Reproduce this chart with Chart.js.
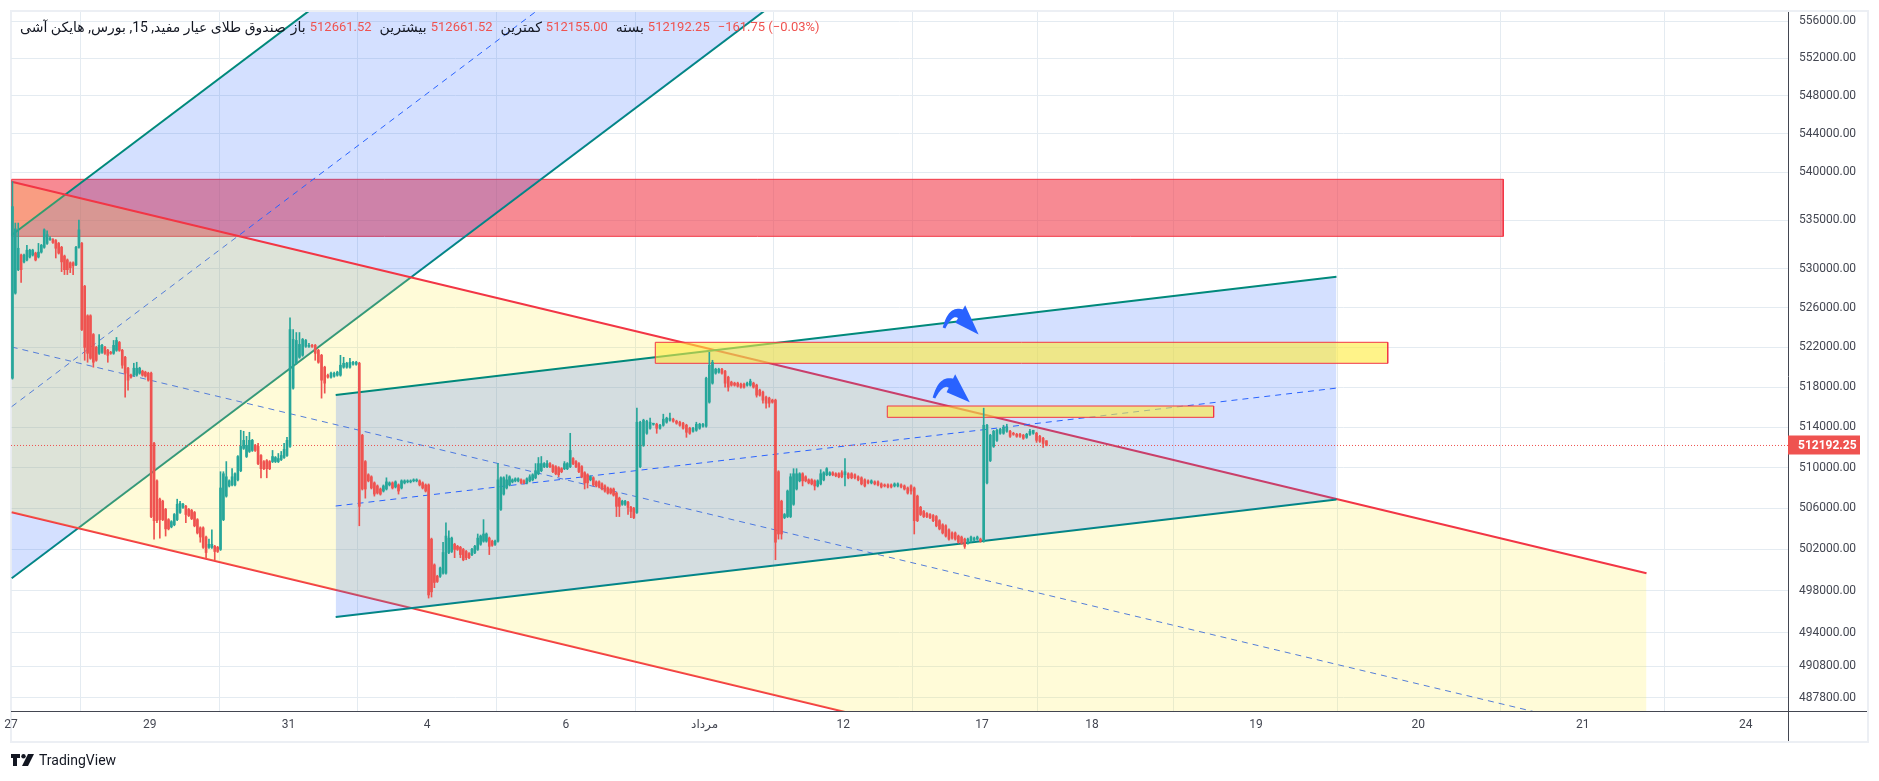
<!DOCTYPE html>
<html lang="fa">
<head>
<meta charset="utf-8">
<title>صندوق طلای عیار مفید</title>
<script src="https://cdn.jsdelivr.net/npm/chart.js@4.4.1/dist/chart.umd.min.js"></script>
<style>
  html, body { margin: 0; padding: 0; background: #fff; }
  body { width: 1879px; height: 781px; position: relative; overflow: hidden; font-family: Roboto, "DejaVu Sans", sans-serif; }
  #frame { position: absolute; left: 10px; top: 10px; width: 1855px; height: 729px; border: 2px solid #eceff4; }
  #wrap { position: absolute; left: 0; top: 0; width: 1879px; height: 781px; }
  #logo { position: absolute; left: 11px; top: 752px; display: flex; align-items: center; font-size: 14px; color: #131722; }
  #logo svg { margin-right: 4px; }
</style>
</head>
<body>
<div id="frame"></div>
<div id="wrap"><canvas id="chart"></canvas></div>
<div id="logo">
  <svg width="24" height="12" viewBox="0 0 24 12"><path d="M0 0h9v4H6v8H2V4H0z" fill="#131722"/><circle cx="12.5" cy="2.2" r="2.2" fill="#131722"/><path d="M17 0h6l-6 12h-6z" fill="#131722"/></svg>
  <span>TradingView</span>
</div>
<script>
(function () {
  // header
  const titleText = 'صندوق طلای عیار مفید, 15, بورس, هایکن آشی';
  const ohlcLabels = ['باز', 'بیشترین', 'کمترین', 'بسته'];
  const ohlcValues = ['512661.52', '512661.52', '512155.00', '512192.25'];
  const changeText = '−161.75 (−0.03%)';
  const lastClose = 512192.25;

  // time axis: sessions counted from the 27th, tick labels as printed
  const xTickPos = [0, 2, 4, 6, 8, 10, 12, 14, 15.585, 17.95, 20.29, 22.66, 25.01];
  const xTickLabels = ['27', '29', '31', '4', '6', 'مرداد', '12', '17', '18', '19', '20', '21', '24'];
  const xMax = 25.62;

  // price axis (log)
  const yTickValues = [556000, 552000, 548000, 544000, 540000, 535000, 530000, 526000, 522000,
    518000, 514000, 510000, 506000, 502000, 498000, 494000, 490800, 487800];
  const yMin = 486560;
  const yMax = 556970;

  // 15 min Heikin Ashi bars, one line per session
  const barsPerDay = [24, 24, 24, 24, 22, 23, 24, 24, 24, 21, 22, 23, 21, 22, 21];

  const opens = [
    518900,527500,529900,531400,530700,530900,531200,531400,531600,531200,531700,532200,532600,533000,533000,532900,532600,532200,531300,530900,530600,530600,530400,532200,
    532600,528200,525200,525200,523300,522000,521400,521500,522000,521700,521500,521400,521700,522500,521700,521000,519900,519200,519200,519200,519400,519600,519500,519400,
    519400,512400,508700,506900,506700,505900,504900,504200,504400,504900,505600,506100,506200,505900,505800,505600,504900,504100,504100,503200,502200,502200,502300,502200,
    502000,504900,507200,508200,508300,508300,508800,509700,511900,511100,511600,511700,512200,512100,511200,510600,510700,510600,510600,510600,510600,510800,511000,511200,
    512100,517900,520400,521000,521200,522100,522100,522200,522200,521700,521200,520000,519200,519000,519100,519200,519200,520000,520000,520000,520300,520300,
    520400,513200,510600,509300,509100,508500,508200,507900,507700,507900,508300,508500,508100,508300,508000,508500,508600,508600,508700,508700,508700,508500,508300,
    508300,503000,500500,499400,499400,499700,499700,501700,501800,502500,502300,502200,502000,501800,501600,501500,501700,502000,502500,502800,502800,503100,502800,502500,
    502800,505900,507400,508000,508300,508600,508700,508700,508800,508700,508500,508700,508800,509000,509400,509700,510100,510100,510400,510200,510100,510000,509900,509900,
    509900,510100,510900,510600,510400,510100,509500,509300,508800,509000,508600,508600,508400,508200,508000,507900,507900,507500,507000,506400,506400,506600,506100,506000,
    505600,510100,512200,513400,513900,514300,514300,513900,514200,514500,514700,514800,514600,514500,514400,514200,513900,513600,513700,513900,514100,
    514100,516500,518400,519400,519500,519800,519600,519000,518500,518400,518400,518300,518300,518200,518200,518400,518200,517700,517500,517000,516900,516700,
    516700,509600,506700,505100,505200,505200,506400,507900,508700,509400,509100,508800,508800,508700,508200,508400,508800,509300,509300,509500,509400,509400,509500,
    509300,509400,509400,509300,509100,509000,508800,508700,508500,508600,508600,508400,508300,508300,508300,508200,508200,508300,508200,508000,508200,
    508000,507200,506100,505700,505500,505400,505300,505200,504800,504400,504300,503900,503600,503600,503300,503200,503000,502600,502800,502900,503000,503000,
    502800,508500,510700,512100,512700,513400,513400,513600,513600,513400,513300,513300,513200,513000,513300,513400,513400,513100,512900,512661.52,
  ];
  const highs = [
    539000,534700,534700,531500,531500,532400,532000,532000,531700,532600,532500,534100,533900,533300,533100,533000,532700,532300,531400,531000,530700,530700,532300,535000,
    532700,528300,525300,525300,523400,522100,523300,522300,522100,521800,521600,522700,523000,522600,521800,521100,520000,519300,520400,520500,520000,519700,519600,519500,
    519500,512500,508800,507000,506800,506000,505000,504800,505500,506900,506700,506500,506300,506000,505900,505700,505000,504200,504200,503300,503000,503900,502400,502300,
    509600,509600,510600,508800,509900,509500,511200,513700,513600,513100,513500,512800,512300,512400,511300,510700,510800,510700,511700,511100,511400,511600,512400,513000,
    525000,523800,523500,523500,522900,522800,522400,522300,522300,521800,521300,520100,519300,519500,519500,519600,521200,521000,520500,520900,520600,520600,
    520500,513300,510700,509400,509200,508600,508300,508000,508300,509000,508600,508600,508700,508400,508800,508800,508800,508800,508900,508900,508800,508600,508400,
    508400,503100,500600,499500,500300,502700,504600,503800,503200,502600,502400,502300,502100,501900,501700,502100,502400,503500,503400,504900,503600,503200,502900,502900,
    510400,509100,509100,509300,509200,508900,509000,509000,508900,508800,509000,509300,509400,510400,511000,511100,510500,510700,510500,510300,510200,510100,510000,510600,
    510500,513400,511000,510700,510500,510200,509600,509400,509200,509100,508700,508700,508500,508300,508100,508000,508000,507600,507100,506800,506800,506700,506200,506100,
    515900,514600,514800,514700,514900,514400,514400,514300,515300,515000,515400,514900,514700,514600,514500,514300,514000,514000,514500,514400,514400,
    519000,521500,520700,519900,519900,519900,519700,519100,518600,518500,518500,518400,518400,518500,518800,518500,518300,517800,517600,517100,517000,516800,
    516800,509700,506800,505500,507800,509400,509900,509900,509500,509500,509200,508900,508900,508800,508800,509800,509600,510000,509600,509600,509500,509500,509700,
    510900,509500,509500,509400,509200,509100,508900,508800,508800,508700,508700,508500,508400,508400,508400,508500,508500,508400,508300,508100,508300,
    508100,507300,506200,505800,505600,505500,505400,505300,504900,504500,504400,504000,503700,503700,503400,503300,503100,503100,503300,503200,503300,503100,
    515900,514300,513300,513700,513800,513900,514200,514300,513700,513500,513400,513400,513300,513400,513800,513700,513500,513200,513000,512661.52,
  ];
  const lows = [
    518800,527400,529800,528600,530600,530800,531100,531300,530800,531100,531600,532100,532500,532900,532600,531100,531500,529700,529400,529400,529600,529400,530300,532100,
    523700,520700,520500,520800,520000,520600,521300,521400,521300,520500,521300,521300,521600,521600,519900,517000,517700,518900,519100,519100,519300,519100,519000,518600,
    505100,503000,504600,503100,504800,503300,503900,504100,504300,504800,505500,506000,504600,505200,504900,504200,503500,502700,502100,501200,502100,502100,501000,501700,
    501900,504800,507100,508100,508200,508200,508700,509600,511800,511000,511500,511600,511600,510300,509000,509800,509000,509800,510500,510500,510500,510700,510900,511100,
    512000,517800,520300,520900,521100,522000,522000,522000,520700,520400,516900,517400,518900,518900,519000,519100,519100,519900,519900,519900,520200,520200,
    504300,507800,507000,508600,507900,507200,507400,507300,507600,507800,508200,507900,508000,507400,507900,508400,508500,508500,508600,508600,508200,507900,507600,
    497300,497400,498300,498800,499300,499600,499600,501600,501700,501200,501900,501200,500900,501000,501100,501400,501600,501900,502400,502700,502700,501500,502300,502400,
    502700,505800,507300,507900,508200,508500,508600,508600,508400,508400,508400,508600,508700,508900,509300,509600,510000,510000,510000,509500,509300,509100,509500,509800,
    509800,510000,510300,510000,509500,509000,507900,508000,508700,508200,508100,508000,507800,507600,507400,507400,507200,505200,505200,506300,506300,505400,505100,505000,
    505500,510000,512100,513300,513800,514200,513400,513800,514100,514400,514600,514500,514300,514100,513800,513000,513300,513500,513600,513800,514000,
    514000,516400,518300,519300,519400,519300,518000,517600,518100,518100,518000,517900,517900,518100,518100,517900,517000,517100,516400,515900,516000,516400,
    501000,503000,503000,505000,505100,505100,506300,507800,508600,508200,508600,508400,508300,507800,508100,508300,508700,509200,509200,509200,509100,509000,509000,
    508200,508900,508900,508900,508700,508300,508100,508400,508400,508300,508200,508000,508100,508000,508000,508100,508100,508000,507800,507400,507400,
    503500,504700,505300,505100,505100,505000,504700,504200,503900,503500,503200,502900,503000,502900,502600,502500,502100,502500,502700,502800,502900,502700,
    502700,508400,510600,512000,512600,513300,513300,513500,513000,513200,513000,513000,512800,512900,513200,513300,512500,512500,512000,512155,
  ];
  const closes = [
    536400,534100,532100,529900,531400,531900,531900,531900,530900,531700,532400,534000,533500,533100,532700,532100,531600,530700,529900,529900,530100,530300,532200,534000,
    523800,522000,521400,520900,520500,520700,522200,522200,521400,521200,521400,522200,522700,521700,520200,519400,518700,519000,519900,519900,519900,519200,519100,518700,
    505200,504800,504800,504900,504900,504000,504000,504700,505400,506400,506500,506400,505400,505300,505000,504300,503600,503200,502200,501700,502500,502500,501800,501800,
    508000,509400,509100,508700,509100,509400,511100,512100,512700,512200,512700,512700,511700,510400,509900,509900,509900,509900,511100,511000,510900,511200,511800,512700,
    523800,522800,522700,522300,522800,522700,522200,522100,521400,520500,518700,518400,519000,519400,519400,519500,520200,520400,520400,520500,520500,520500,
    506200,507900,507900,508700,508000,507400,507500,507400,508200,508600,508500,508000,508600,507700,508700,508700,508700,508700,508800,508800,508300,508000,507700,
    497600,497900,498800,498900,500200,501700,503300,503100,503100,502000,502000,501500,501000,501200,501200,502000,502300,503100,503300,503500,503500,502300,502400,502800,
    508800,509000,509000,508800,509100,508800,508900,508900,508500,508500,508900,509100,509300,509700,510400,510400,510400,510400,510100,509600,509400,509300,509600,510400,
    510400,511700,510400,510100,509600,509100,508500,508500,509100,508300,508200,508100,507900,507700,507500,507500,507300,506200,506200,506700,506700,506100,505700,505100,
    514500,514500,514700,514600,514500,514300,513900,514200,514800,514900,514900,514600,514400,514200,513900,513500,513400,513900,514300,514300,514300,
    518900,520200,520500,519800,519800,519400,518400,518000,518200,518200,518100,518000,518000,518400,518600,518000,517200,517200,516700,516400,516400,516500,
    502700,503500,503500,505400,507700,509100,509400,509400,509400,508700,508700,508500,508400,508200,508700,509400,509500,509900,509500,509300,509200,509100,509100,
    509600,509000,509000,509000,508800,508400,508200,508500,508700,508400,508300,508100,508200,508100,508100,508400,508400,508100,507900,507500,507700,
    504800,504800,505400,505200,505200,505100,504800,504300,504000,503600,503300,503000,503100,503000,502700,502600,502300,503000,503200,503100,503200,502800,
    514200,514200,513200,513600,513700,513800,514000,514000,513100,513300,513100,513100,512900,513300,513600,513700,512700,512600,512400,512192.25,
  ];

  // drawings: x in sessions, y in price
  const steepDays = [0.01, 12.82];
  const steepUpper = [533464, 607223];
  const steepLower = [499203, 568226];
  const steepMid = [516050, 587401];

  const fallDays = [0.01, 23.58];
  const fallUpper = [538990, 499686];
  const fallLower = [505614, 468744];
  const fallMid = [522036, 483969];

  const riseDays = [4.681, 19.11];
  const riseUpper = [517213, 529180];
  const riseLower = [495482, 506867];
  const riseMid = [506231, 517904];

  const zoneStart = [0.01, 9.289, 12.634];
  const zoneEnd = [21.515, 19.849, 17.339];
  const zoneTop = [539240, 522511, 516115];
  const zoneBottom = [533330, 520394, 514988];

  const arrowFrom = [[13.452, 523957], [13.307, 516914]];
  const arrowTo = [[13.913, 523451], [13.784, 516614]];

  const colors = {
    up: '#26a69a',
    down: '#ef5350',
    teal: '#00897b',
    red: '#f23645',
    dash: '#2962ff',
    blueFill: 'rgba(41, 98, 255, 0.2)',
    yellowFill: 'rgba(255, 235, 59, 0.2)',
    redZone: 'rgba(242, 54, 69, 0.58)',
    yellowZone: 'rgba(255, 235, 59, 0.6)',
    grid: '#e4ebf1',
    text: '#434651',
    axis: '#434651',
    title: '#131722',
  };

  // candle positions inside each session
  const candleX = [];
  let bar = 0;
  barsPerDay.forEach((slots, day) => {
    for (let k = 0; k < slots && bar < closes.length; k += 1, bar += 1) {
      candleX.push(day + (k + 0.5) / slots);
    }
  });
  const candleColor = closes.map((c, i) => (c >= opens[i] ? colors.up : colors.down));

  const seg = (days, vals) => days.map((d, i) => ({ x: d, y: vals[i] }));
  const lineDs = (data, color, extra) => Object.assign({
    type: 'line',
    data,
    borderColor: color,
    borderWidth: 2,
    pointRadius: 0,
    fill: false,
  }, extra);

  const datasets = [];
  // zones (bottom layer is the red one)
  zoneStart.forEach((x0, i) => {
    const x1 = zoneEnd[i];
    datasets.push(lineDs([
      { x: x0, y: zoneTop[i] }, { x: x1, y: zoneTop[i] },
      { x: x1, y: zoneBottom[i] }, { x: x0, y: zoneBottom[i] }, { x: x0, y: zoneTop[i] },
    ], colors.red, {
      borderWidth: 1,
      fill: 'shape',
      backgroundColor: i === 0 ? colors.redZone : colors.yellowZone,
      order: i === 0 ? 100 : 60,
    }));
  });
  // steep rising channel
  datasets.push(lineDs(seg(steepDays, steepUpper), colors.teal, { fill: '+1', backgroundColor: colors.blueFill, order: 90 }));
  datasets.push(lineDs(seg(steepDays, steepLower), colors.teal, { order: 90 }));
  datasets.push(lineDs(seg(steepDays, steepMid), colors.dash, { borderWidth: 1, borderDash: [6, 5], order: 90 }));
  // falling channel
  datasets.push(lineDs(seg(fallDays, fallUpper), colors.red, { fill: '+1', backgroundColor: colors.yellowFill, order: 80 }));
  datasets.push(lineDs(seg(fallDays, fallLower), colors.red, { order: 80 }));
  datasets.push(lineDs(seg(fallDays, fallMid), colors.dash, { borderWidth: 1, borderDash: [6, 5], order: 80 }));
  // gentle rising channel
  datasets.push(lineDs(seg(riseDays, riseUpper), colors.teal, { fill: '+1', backgroundColor: colors.blueFill, order: 70 }));
  datasets.push(lineDs(seg(riseDays, riseLower), colors.teal, { order: 70 }));
  datasets.push(lineDs(seg(riseDays, riseMid), colors.dash, { borderWidth: 1, borderDash: [6, 5], order: 70 }));
  // last price line
  datasets.push(lineDs([{ x: 0, y: lastClose }, { x: xMax, y: lastClose }], colors.down, { borderWidth: 1, borderDash: [1, 2], order: 55 }));
  // candles
  datasets.push({
    type: 'bar',
    data: candleX.map((x, i) => ({ x, y: [lows[i], highs[i]] })),
    backgroundColor: candleColor,
    barThickness: 1,
    grouped: false,
    minBarLength: 1,
    borderWidth: 0,
    order: 50,
  });
  datasets.push({
    type: 'bar',
    data: candleX.map((x, i) => ({ x, y: [opens[i], closes[i]] })),
    backgroundColor: candleColor,
    barThickness: 2,
    grouped: false,
    minBarLength: 1,
    borderWidth: 0,
    order: 49,
  });

  function drawArrow(ctx, xs, ys, xe, ye) {
    const cx = (xs + xe) / 2 - 4;
    const cy = Math.min(ys, ye) - 32;
    const pt = (t) => ({
      x: (1 - t) * (1 - t) * xs + 2 * (1 - t) * t * cx + t * t * xe,
      y: (1 - t) * (1 - t) * ys + 2 * (1 - t) * t * cy + t * t * ye,
    });
    const dir = (t) => {
      const dx = 2 * (1 - t) * (cx - xs) + 2 * t * (xe - cx);
      const dy = 2 * (1 - t) * (cy - ys) + 2 * t * (ye - cy);
      const len = Math.hypot(dx, dy) || 1;
      return { x: dx / len, y: dy / len };
    };
    const tHead = 0.6;
    const left = [];
    const right = [];
    for (let i = 0; i <= 20; i += 1) {
      const t = (tHead * i) / 20;
      const p = pt(t);
      const d = dir(t);
      const w = 1.4 + 3.8 * (t / tHead);
      left.push([p.x - d.y * w, p.y + d.x * w]);
      right.push([p.x + d.y * w, p.y - d.x * w]);
    }
    ctx.beginPath();
    left.forEach((p, i) => (i ? ctx.lineTo(p[0], p[1]) : ctx.moveTo(p[0], p[1])));
    right.reverse().forEach((p) => ctx.lineTo(p[0], p[1]));
    ctx.closePath();
    ctx.fill();
    const base = pt(tHead - 0.03);
    const d = dir(tHead);
    const tip = pt(1);
    const hw = 10;
    ctx.beginPath();
    ctx.moveTo(base.x - d.y * hw, base.y + d.x * hw);
    ctx.lineTo(tip.x + d.x * 3, tip.y + d.y * 3);
    ctx.lineTo(base.x + d.y * hw, base.y - d.x * hw);
    ctx.closePath();
    ctx.fill();
  }

  // symbol / OHLC header line, written left to right
  function drawHeader(ctx) {
    ctx.save();
    ctx.textBaseline = 'middle';
    const y = 28;
    let x = 20;
    const put = (text, color, rtl, gap) => {
      ctx.font = rtl ? '14px Roboto, "DejaVu Sans", sans-serif' : '13px Roboto, sans-serif';
      ctx.direction = rtl ? 'rtl' : 'ltr';
      ctx.textAlign = 'left';
      ctx.fillStyle = color;
      ctx.fillText(text, x, y);
      x += ctx.measureText(text).width + gap;
    };
    put(titleText, colors.title, true, 5);
    ohlcLabels.forEach((label, i) => {
      put(label, colors.title, true, 4);
      put(ohlcValues[i], colors.down, false, 8);
    });
    put(changeText, colors.down, false, 0);
    ctx.restore();
  }

  const chromePlugin = {
    id: 'chrome',
    afterDatasetsDraw(chart) {
      const { ctx, scales } = chart;
      ctx.save();
      ctx.fillStyle = colors.dash;
      arrowFrom.forEach((from, i) => {
        const to = arrowTo[i];
        drawArrow(ctx,
          scales.x.getPixelForValue(from[0]), scales.y.getPixelForValue(from[1]),
          scales.x.getPixelForValue(to[0]), scales.y.getPixelForValue(to[1]));
      });
      ctx.restore();
    },
    afterDraw(chart) {
      const { ctx, chartArea, scales } = chart;
      ctx.save();
      ctx.strokeStyle = colors.axis;
      ctx.lineWidth = 1;
      ctx.beginPath();
      ctx.moveTo(Math.round(chartArea.right) + 0.5, 12);
      ctx.lineTo(Math.round(chartArea.right) + 0.5, chartArea.bottom + 30);
      ctx.moveTo(chartArea.left, Math.round(chartArea.bottom) + 0.5);
      ctx.lineTo(chartArea.right + 79, Math.round(chartArea.bottom) + 0.5);
      ctx.stroke();
      const yp = scales.y.getPixelForValue(lastClose);
      ctx.fillStyle = colors.down;
      ctx.fillRect(chartArea.right, Math.round(yp) - 9.5, 72, 19);
      ctx.fillStyle = '#ffffff';
      ctx.font = 'bold 12px Roboto, sans-serif';
      ctx.textBaseline = 'middle';
      ctx.textAlign = 'left';
      ctx.fillText(lastClose.toFixed(2), chartArea.right + 10, Math.round(yp) + 0.5);
      ctx.restore();
      drawHeader(ctx);
    },
  };

  new Chart(document.getElementById('chart'), {
    type: 'line',
    data: { datasets },
    options: {
      responsive: true,
      maintainAspectRatio: false,
      animation: false,
      events: [],
      layout: { padding: { left: 11, top: 12, right: 12, bottom: 40 } },
      plugins: {
        legend: { display: false },
        tooltip: { enabled: false },
      },
      scales: {
        x: {
          type: 'linear',
          min: 0,
          max: xMax,
          offset: false,
          afterBuildTicks: (scale) => { scale.ticks = xTickPos.map((v) => ({ value: v })); },
          afterFit: (scale) => {
            scale.height = 30;
            scale.paddingLeft = 0;
            scale.paddingRight = 0;
          },
          grid: { color: colors.grid, drawTicks: false },
          border: { display: false },
          ticks: {
            autoSkip: false,
            maxRotation: 0,
            padding: 7,
            color: colors.text,
            font: { family: 'Roboto, "DejaVu Sans", sans-serif', size: 12 },
            callback: (value, index) => xTickLabels[index],
          },
        },
        y: {
          type: 'logarithmic',
          position: 'right',
          min: yMin,
          max: yMax,
          afterBuildTicks: (scale) => { scale.ticks = yTickValues.map((v) => ({ value: v })); },
          afterFit: (scale) => {
            scale.width = 79;
            scale.paddingTop = 0;
            scale.paddingBottom = 0;
          },
          grid: { color: colors.grid, drawTicks: false },
          border: { display: false },
          ticks: {
            autoSkip: false,
            padding: 11,
            color: colors.text,
            font: { family: 'Roboto, sans-serif', size: 12 },
            callback: (value) => Number(value).toFixed(2),
          },
        },
      },
    },
    plugins: [chromePlugin],
  });
})();
</script>
</body>
</html>
